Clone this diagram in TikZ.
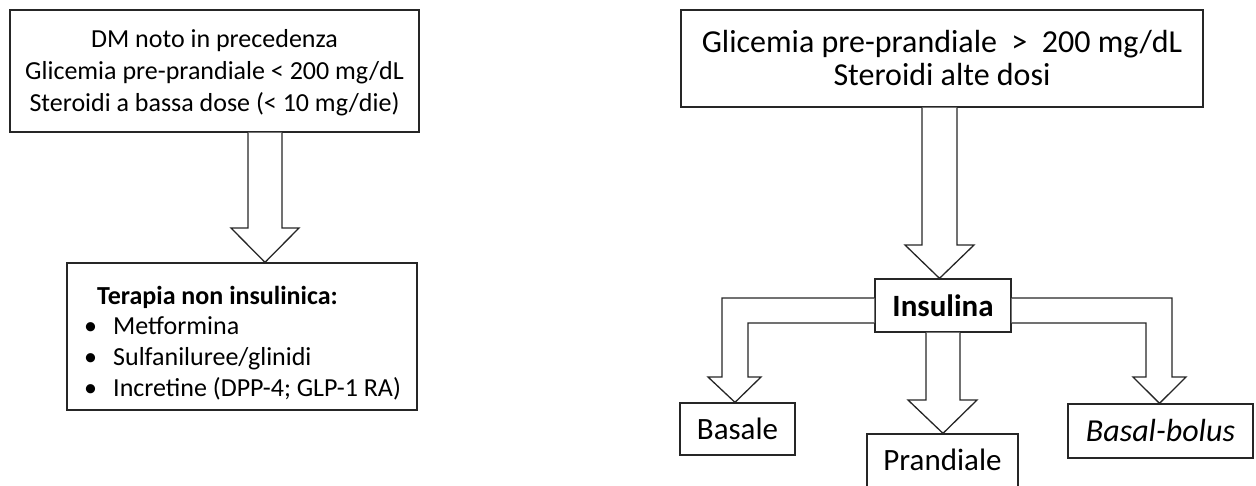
\documentclass[tikz,border=0pt]{standalone}
\usepackage{fontspec}
\setmainfont{Carlito}
\usetikzlibrary{calc}
\begin{document}
\begin{tikzpicture}[x=1pt,y=-1pt,
  box/.style={draw=black!85, line width=1.3pt, fill=white, inner sep=0pt,
    font=\fontsize{26}{32}\selectfont, align=center, text=black},
  big/.style={font=\fontsize{31}{34}\selectfont},
  txt/.style={anchor=base west, inner sep=0pt, font=\fontsize{26}{32}\selectfont, text=black},
  barrow/.style={draw=black!85, line width=1.3pt, fill=white, line join=miter},
]
\useasboundingbox (0,0) rectangle (1256,485);

% boxes
\node[box, minimum width=409pt, minimum height=122pt] (a) at (214.5,71) {};
\node[align=center, inner sep=0pt, font=\fontsize{26}{32}\selectfont] (at) at (214.5,73)
  {DM noto in precedenza\\Glicemia pre-prandiale < 200 mg/dL\\Steroidi a bassa dose (< 10 mg/die)};
\node[box, minimum width=350pt, minimum height=147pt] (b) at (242,336.5) {};
\node[txt, font=\fontsize{26}{32}\selectfont\bfseries] (b0) at (97,304) {Terapia non insulinica:};
\node[txt] (b1d) at (84,334) {\textbullet};
\node[txt] (b1) at (113,334) {Metformina};
\node[txt] (b2d) at (84,365) {\textbullet};
\node[txt] (b2) at (113,365) {Sulfaniluree/glinidi};
\node[txt] (b3d) at (84,396) {\textbullet};
\node[txt] (b3) at (113,396) {Incretine (DPP-4; GLP-1 RA)};

\node[box, font=\fontsize{32}{33}\selectfont, minimum width=522pt, minimum height=97pt] (c) at (942,58.5)
  {Glicemia pre-prandiale\ \ >\ \ 200 mg/dL\\Steroidi alte dosi};
\node[box, minimum width=136pt, minimum height=53pt, font=\fontsize{31}{34}\selectfont\bfseries] (d) at (943,305.5) {Insulina};
\node[box, big, minimum width=115pt, minimum height=52pt] (e) at (737.5,429) {Basale};
\node[box, big, minimum width=151pt, minimum height=56pt, text depth=4pt] (f) at (942.5,462) {Prandiale};
\node[box, minimum width=185pt, minimum height=54pt, font=\fontsize{32}{34}\selectfont\itshape] (g) at (1160.5,431) {Basal-bolus};

% block arrows
\draw[barrow] (a.south -| 248,0) -- (248,228) -- (231,228) -- (b.north -| 265,0)
  -- (299,228) -- (282,228) -- (a.south -| 282,0);
\draw[barrow] (c.south -| 922,0) -- (922,245) -- (905,245) -- (d.north -| 939.5,0)
  -- (974,245) -- (957,245) -- (c.south -| 957,0);
\draw[barrow] (d.west |- 0,298) -- (722,298) -- (722,377) -- (708,377) -- (e.north -| 735,0)
  -- (761,377) -- (748,377) -- (748,323) -- (d.west |- 0,323);
\draw[barrow] (d.south -| 926,0) -- (926,400) -- (908,400) -- (f.north -| 943,0)
  -- (977,400) -- (960,400) -- (d.south -| 960,0);
\draw[barrow] (d.east |- 0,298) -- (1172,298) -- (1172,377) -- (1186,377) -- (g.north -| 1159.5,0)
  -- (1133,377) -- (1146,377) -- (1146,323) -- (d.east |- 0,323);
\end{tikzpicture}
\end{document}
